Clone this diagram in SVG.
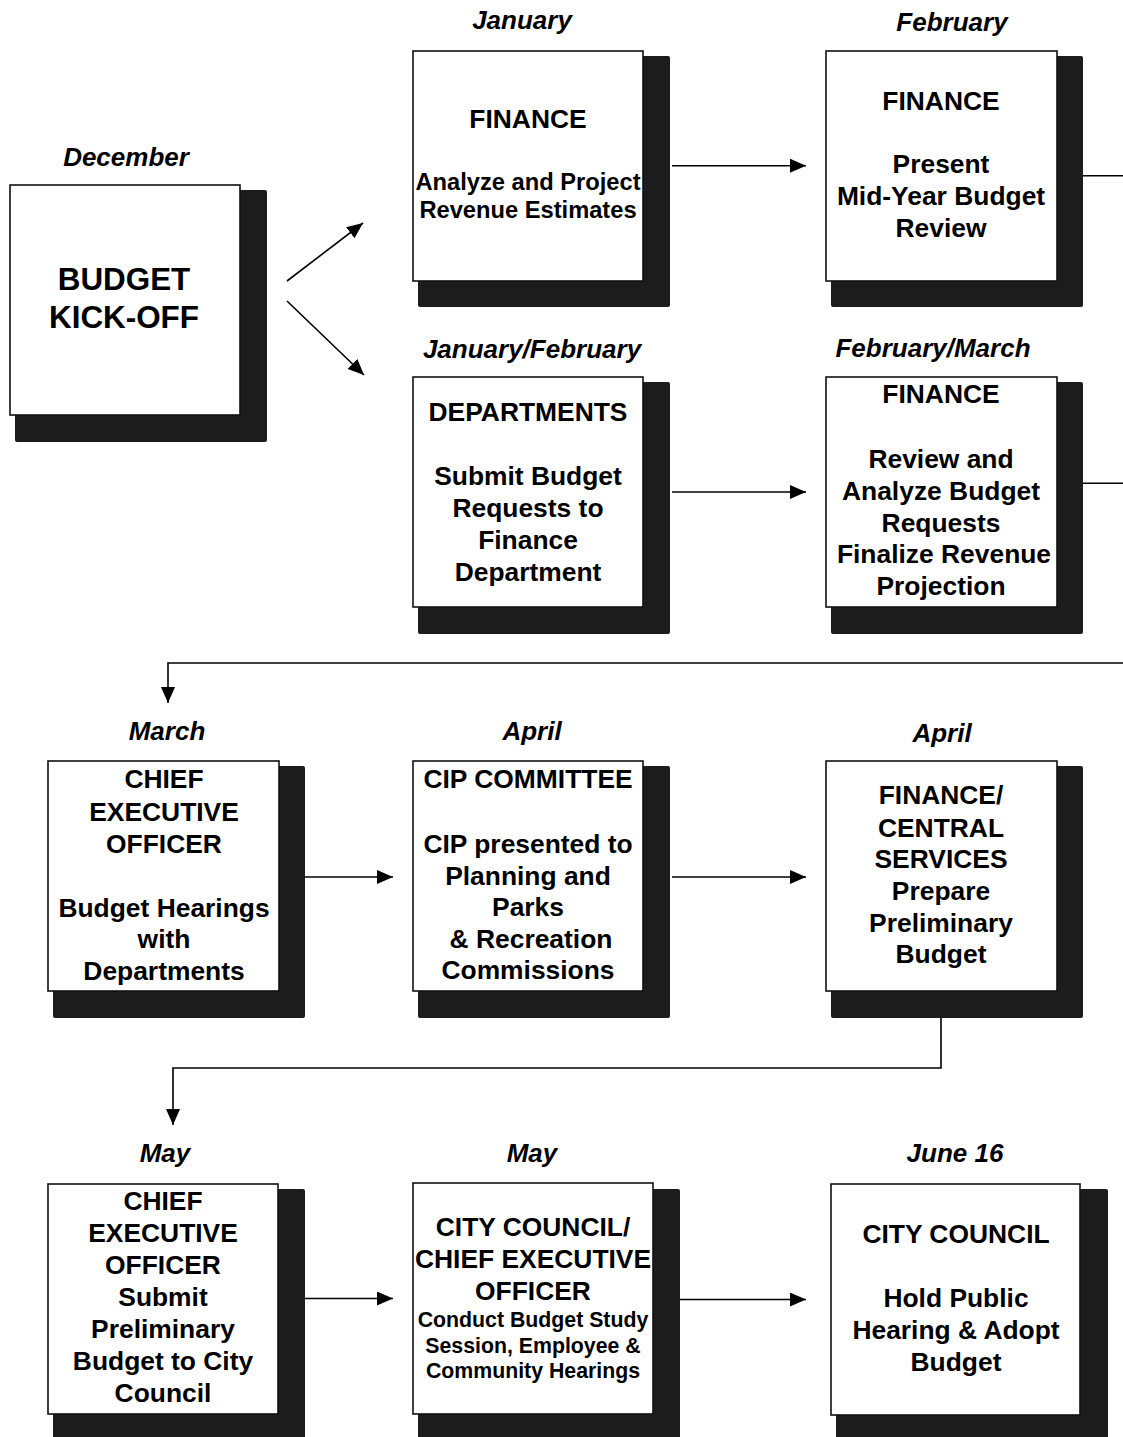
<svg xmlns="http://www.w3.org/2000/svg" width="1123" height="1437" viewBox="0 0 1123 1437">
<defs>
<style>
.sh{fill:#1c1c1c}
.bx{fill:#fff;stroke:#111;stroke-width:1.6}
.t{font-family:"Liberation Sans",Arial,Helvetica,sans-serif;font-weight:bold;text-anchor:middle;fill:#000;font-size:26.4px}
.m{font-style:italic;font-size:26px}
.k{font-size:31.4px}
.s{font-size:23.7px}
.xs{font-size:21.3px}
.c{stroke:#000;stroke-width:1.6;fill:none}
</style>
<marker id="ah" markerUnits="userSpaceOnUse" markerWidth="17" markerHeight="15" refX="16" refY="7" orient="auto">
<path d="M0,0 L16,7 L0,14 z" fill="#000"/>
</marker>
</defs>
<rect width="1123" height="1437" fill="#fff"/>

<g id="connectors">
<path class="c" d="M287,281 L363,223" marker-end="url(#ah)"/>
<path class="c" d="M287,301 L364,375" marker-end="url(#ah)"/>
<path class="c" d="M672,165.7 H806" marker-end="url(#ah)"/>
<path class="c" d="M1080,175.7 H1123"/>
<path class="c" d="M672,492 H806" marker-end="url(#ah)"/>
<path class="c" d="M1080,483.3 H1123"/>
<path class="c" d="M1123,663 H168 V703" marker-end="url(#ah)"/>
<path class="c" d="M297,877 H393" marker-end="url(#ah)"/>
<path class="c" d="M672,877 H806" marker-end="url(#ah)"/>
<path class="c" d="M941,992 V1068 H173 V1125" marker-end="url(#ah)"/>
<path class="c" d="M297,1298.5 H393" marker-end="url(#ah)"/>
<path class="c" d="M672,1299.5 H806" marker-end="url(#ah)"/>
</g>

<g id="kickoff">
<text class="t m" x="126" y="166">December</text>
<rect class="sh" x="15" y="190" width="252" height="252" rx="2"/>
<rect class="bx" x="10" y="185" width="230" height="230"/>
<text class="t k" x="124" y="290">BUDGET</text>
<text class="t k" x="124" y="328">KICK-OFF</text>
</g>

<g id="jan">
<text class="t m" x="522" y="29">January</text>
<rect class="sh" x="418" y="56" width="252" height="251" rx="2"/>
<rect class="bx" x="413" y="51" width="230" height="230"/>
<text class="t" x="528" y="128">FINANCE</text>
<text class="t s" x="528" y="190">Analyze and Project</text>
<text class="t s" x="528" y="218">Revenue Estimates</text>
</g>

<g id="feb">
<text class="t m" x="952" y="31">February</text>
<rect class="sh" x="831" y="56" width="252" height="251" rx="2"/>
<rect class="bx" x="826" y="51" width="231" height="230"/>
<text class="t" x="941" y="110">FINANCE</text>
<text class="t" x="941" y="173">Present</text>
<text class="t" x="941" y="205">Mid-Year Budget</text>
<text class="t" x="941" y="237">Review</text>
</g>

<g id="janfeb">
<text class="t m" x="532" y="358">January/February</text>
<rect class="sh" x="418" y="382" width="252" height="252" rx="2"/>
<rect class="bx" x="413" y="377" width="230" height="230"/>
<text class="t" x="528" y="421">DEPARTMENTS</text>
<text class="t" x="528" y="485">Submit Budget</text>
<text class="t" x="528" y="517">Requests to</text>
<text class="t" x="528" y="549">Finance</text>
<text class="t" x="528" y="581">Department</text>
</g>

<g id="febmar">
<text class="t m" x="933" y="357">February/March</text>
<rect class="sh" x="831" y="382" width="252" height="252" rx="2"/>
<rect class="bx" x="826" y="377" width="231" height="230"/>
<text class="t" x="941" y="403">FINANCE</text>
<text class="t" x="941" y="468">Review and</text>
<text class="t" x="941" y="500">Analyze Budget</text>
<text class="t" x="941" y="532">Requests</text>
<text class="t" x="944" y="563">Finalize Revenue</text>
<text class="t" x="941" y="595">Projection</text>
</g>

<g id="march">
<text class="t m" x="167" y="740">March</text>
<rect class="sh" x="53" y="766" width="252" height="252" rx="2"/>
<rect class="bx" x="48" y="761" width="231" height="230"/>
<text class="t" x="164" y="788">CHIEF</text>
<text class="t" x="164" y="821">EXECUTIVE</text>
<text class="t" x="164" y="853">OFFICER</text>
<text class="t" x="164" y="917">Budget Hearings</text>
<text class="t" x="164" y="948">with</text>
<text class="t" x="164" y="980">Departments</text>
</g>

<g id="cip">
<text class="t m" x="532" y="740">April</text>
<rect class="sh" x="418" y="766" width="252" height="252" rx="2"/>
<rect class="bx" x="413" y="761" width="230" height="230"/>
<text class="t" x="528" y="788">CIP COMMITTEE</text>
<text class="t" x="528" y="853">CIP presented to</text>
<text class="t" x="528" y="885">Planning and</text>
<text class="t" x="528" y="916">Parks</text>
<text class="t" x="531" y="948">&amp; Recreation</text>
<text class="t" x="528" y="979">Commissions</text>
</g>

<g id="fincentral">
<text class="t m" x="942" y="742">April</text>
<rect class="sh" x="831" y="766" width="252" height="252" rx="2"/>
<rect class="bx" x="826" y="761" width="231" height="230"/>
<text class="t" x="941" y="804">FINANCE/</text>
<text class="t" x="941" y="837">CENTRAL</text>
<text class="t" x="941" y="868">SERVICES</text>
<text class="t" x="941" y="900">Prepare</text>
<text class="t" x="941" y="932">Preliminary</text>
<text class="t" x="941" y="963">Budget</text>
</g>

<g id="may1">
<text class="t m" x="165" y="1162">May</text>
<rect class="sh" x="53" y="1189" width="252" height="252" rx="2"/>
<rect class="bx" x="48" y="1184" width="230" height="230"/>
<text class="t" x="163" y="1210">CHIEF</text>
<text class="t" x="163" y="1242">EXECUTIVE</text>
<text class="t" x="163" y="1274">OFFICER</text>
<text class="t" x="163" y="1306">Submit</text>
<text class="t" x="163" y="1338">Preliminary</text>
<text class="t" x="163" y="1370">Budget to City</text>
<text class="t" x="163" y="1402">Council</text>
</g>

<g id="may2">
<text class="t m" x="532" y="1162">May</text>
<rect class="sh" x="418" y="1189" width="262" height="252" rx="2"/>
<rect class="bx" x="413" y="1183" width="240" height="231"/>
<text class="t" x="533" y="1236">CITY COUNCIL/</text>
<text class="t" x="533" y="1268">CHIEF EXECUTIVE</text>
<text class="t" x="533" y="1300">OFFICER</text>
<text class="t xs" x="533" y="1327">Conduct Budget Study</text>
<text class="t xs" x="533" y="1353">Session, Employee &amp;</text>
<text class="t xs" x="533" y="1378">Community Hearings</text>
</g>

<g id="june">
<text class="t m" x="955" y="1162">June 16</text>
<rect class="sh" x="836" y="1189" width="272" height="252" rx="2"/>
<rect class="bx" x="831" y="1184" width="249" height="231"/>
<text class="t" x="956" y="1243">CITY COUNCIL</text>
<text class="t" x="956" y="1307">Hold Public</text>
<text class="t" x="956" y="1339">Hearing &amp; Adopt</text>
<text class="t" x="956" y="1371">Budget</text>
</g>
</svg>
